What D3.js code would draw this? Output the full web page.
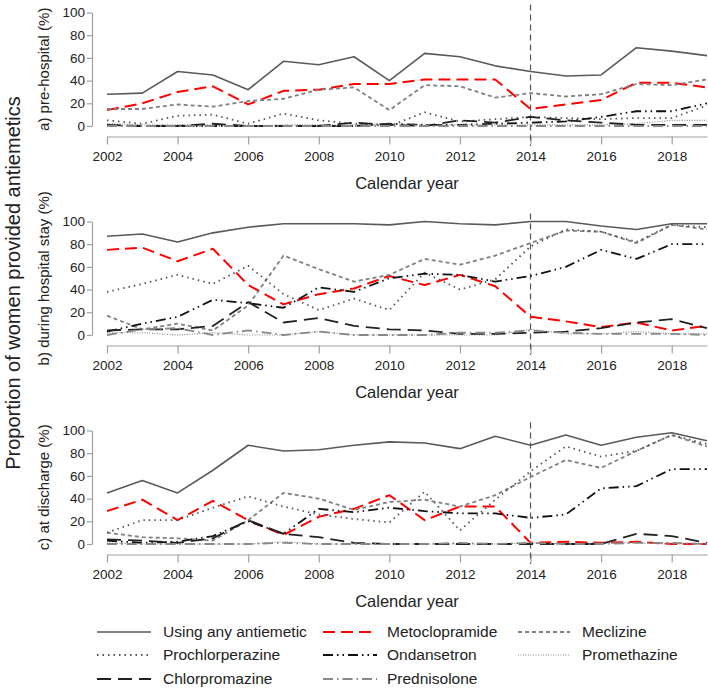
<!DOCTYPE html>
<html>
<head>
<meta charset="utf-8">
<script src="https://cdn.jsdelivr.net/npm/d3@7"></script>
<style>
  html, body { margin: 0; padding: 0; background: #fff; }
  svg { display: block; font-family: "Liberation Sans", Arial, sans-serif; }
</style>
</head>
<body>
<svg id="chart" width="708" height="689"></svg>
<script>
// ---------------- DATA ----------------
const years = [2002,2003,2004,2005,2006,2007,2008,2009,2010,2011,2012,2013,2014,2015,2016,2017,2018,2019];
const xTicks = [2002,2004,2006,2008,2010,2012,2014,2016,2018];
const yTicks = [0,20,40,60,80,100];
const drugs = ["Using any antiemetic","Metoclopramide","Meclizine","Prochlorperazine","Ondansetron","Promethazine","Chlorpromazine","Prednisolone"];
const panelTitles = ["a) pre-hospital (%)","b) during hospital stay (%)","c) at discharge (%)"];

// a) pre-hospital
const preAny   = [28,29,48,45,32,57,54,61,40,64,61,53,48,44,45,69,66,62];
const preMeto  = [14,20,30,35,19,31,32,37,37,41,41,41,15,19,23,38,38,34];
const preMecl  = [15,15,19,17,22,24,32,34,14,36,35,25,29,26,28,37,36,41];
const preProc  = [5,2,9,10,2,11,5,2,0,12,4,6,8,7,6,7,7,18];
const preOnd   = [0,0,0,0,0,0,0,0,2,1,1,2,3,4,8,13,13,20];
const preProm  = [2,1,1,1,0,1,1,1,2,1,1,1,1,1,1,2,5,5];
const preChlor = [1,0,0,2,0,0,0,3,1,0,5,3,8,5,3,1,1,1];
const prePred  = [0,0,0,0,0,0,0,0,0,0,0,0,0,0,0,0,0,0];

// b) during hospital stay
const hosAny   = [87,89,82,90,95,98,98,98,97,100,98,97,100,100,96,93,98,98];
const hosMeto  = [75,77,65,76,44,27,36,41,52,44,53,43,16,12,7,11,4,8];
const hosMecl  = [17,5,10,4,26,70,58,47,53,67,62,70,81,92,91,81,97,93];
const hosProc  = [38,45,53,45,61,36,22,32,22,55,40,49,78,93,91,82,97,95];
const hosOnd   = [3,10,16,31,28,24,42,38,50,54,53,47,52,60,75,67,80,80];
const hosProm  = [2,2,0,2,0,0,3,0,0,0,0,0,5,1,1,3,1,1];
const hosChlor = [4,5,5,8,29,11,15,8,5,4,1,1,2,3,6,11,14,6];
const hosPred  = [0,5,6,0,4,0,3,0,0,0,2,2,4,2,1,1,1,0];

// c) at discharge
const disAny   = [45,56,45,65,87,82,83,87,90,89,84,95,87,96,87,94,98,91];
const disMeto  = [29,39,21,38,21,8,24,31,43,21,33,33,1,2,1,2,0,0];
const disMecl  = [10,6,5,3,21,45,40,30,37,39,33,43,59,74,67,82,96,86];
const disProc  = [10,21,21,32,42,33,26,22,19,46,12,39,64,86,77,82,96,88];
const disOnd   = [3,1,2,7,20,9,31,28,32,29,27,27,23,26,49,51,66,66];
const disProm  = [1,0,0,0,0,2,0,0,0,0,0,0,1,0,1,1,0,0];
const disChlor = [4,3,1,5,21,9,6,1,0,0,0,0,0,0,0,9,7,1];
const disPred  = [0,0,0,0,0,1,0,0,0,0,1,0,1,0,0,1,1,0];

const markerYear = 2014;

// ---------------- STYLES ----------------
const styles = {
  "Using any antiemetic": {color:"#5a5a5a", width:1.6, dash:null},
  "Metoclopramide":       {color:"#ff0000", width:2,   dash:"12,6"},
  "Meclizine":            {color:"#808080", width:1.8, dash:"4,3"},
  "Prochlorperazine":     {color:"#555555", width:1.8, dash:"1.5,4"},
  "Ondansetron":          {color:"#111111", width:1.8, dash:"10,4,1.5,4,1.5,4"},
  "Promethazine":         {color:"#8a8a8a", width:1.2, dash:"1,1.5"},
  "Chlorpromazine":       {color:"#222222", width:1.8, dash:"14,7"},
  "Prednisolone":         {color:"#888888", width:1.8, dash:"10,4,1.5,4"}
};

const panels = [
  {title: panelTitles[0], top: 12.5,  series: [preAny,preMeto,preMecl,preProc,preOnd,preProm,preChlor,prePred]},
  {title: panelTitles[1], top: 221.5, series: [hosAny,hosMeto,hosMecl,hosProc,hosOnd,hosProm,hosChlor,hosPred]},
  {title: panelTitles[2], top: 430.5, series: [disAny,disMeto,disMecl,disProc,disOnd,disProm,disChlor,disPred]}
];

// ---------------- DRAW ----------------
const svg = d3.select("#chart");
const plotH = 113.5;
const x = d3.scaleLinear().domain([2002, 2019]).range([107, 707]);
const axisColor = "#a0a0a0";
const textColor = "#222";

panels.forEach(p => {
  const y = d3.scaleLinear().domain([0, 100]).range([p.top + plotH, p.top]);
  const g = svg.append("g");
  const y0 = p.top + plotH;

  // y axis
  const ya = g.append("g").attr("transform", "translate(92,0)")
    .call(d3.axisLeft(y).tickValues(yTicks).tickSize(5).tickSizeOuter(0).tickPadding(2));
  ya.select(".domain").attr("stroke", axisColor).attr("stroke-width", 1.2);
  ya.selectAll(".tick line").attr("stroke", axisColor).attr("stroke-width", 1.2);
  ya.selectAll(".tick text").attr("fill", textColor).style("font-size", "13.5px");

  // x axis
  const xa = g.append("g").attr("transform", `translate(0,${y0 + 10.5})`)
    .call(d3.axisBottom(x).tickValues(xTicks).tickFormat(d3.format("d")).tickSize(8).tickSizeOuter(0).tickPadding(7));
  xa.select(".domain").attr("stroke", axisColor).attr("stroke-width", 1.2);
  xa.selectAll(".tick line").attr("stroke", axisColor).attr("stroke-width", 1.2);
  xa.selectAll(".tick text").attr("fill", textColor).style("font-size", "13.5px");

  // vertical marker
  g.append("line")
    .attr("x1", x(markerYear)).attr("x2", x(markerYear))
    .attr("y1", p.top - 8).attr("y2", y0 + 20)
    .attr("stroke", "#555").attr("stroke-width", 1.2).attr("stroke-dasharray", "6,4");

  // series lines
  const line = d3.line().x((d, i) => x(years[i])).y(d => y(d));
  p.series.forEach((vals, k) => {
    const s = styles[drugs[k]];
    g.append("path").datum(vals)
      .attr("d", line)
      .attr("fill", "none")
      .attr("stroke", s.color)
      .attr("stroke-width", s.width)
      .attr("stroke-dasharray", s.dash)
      .attr("stroke-linejoin", "round");
  });

  // x title
  g.append("text").attr("x", 407).attr("y", y0 + 63)
    .attr("text-anchor", "middle").attr("fill", textColor)
    .style("font-size", "16.5px").text("Calendar year");

  // panel y title
  g.append("text")
    .attr("transform", `translate(44,${p.top + plotH / 2}) rotate(-90)`)
    .attr("text-anchor", "middle").attr("dy", "0.35em").attr("fill", textColor)
    .style("font-size", "15px").text(p.title);
});

// overall y title
svg.append("text")
  .attr("transform", "translate(13,283) rotate(-90)")
  .attr("text-anchor", "middle").attr("dy", "0.35em").attr("fill", textColor)
  .style("font-size", "20px").text("Proportion of women provided antiemetics");

// ---------------- LEGEND ----------------
const legendCols = [{lx1: 97, lx2: 151, tx: 163}, {lx1: 323, lx2: 377, tx: 387}, {lx1: 518, lx2: 570, tx: 582}];
const legendRows = [632, 655, 679];
drugs.forEach((name, i) => {
  const col = legendCols[i % 3], row = legendRows[Math.floor(i / 3)];
  const s = styles[name];
  svg.append("line")
    .attr("x1", col.lx1).attr("x2", col.lx2).attr("y1", row).attr("y2", row)
    .attr("stroke", s.color).attr("stroke-width", s.width).attr("stroke-dasharray", s.dash);
  svg.append("text").attr("x", col.tx).attr("y", row).attr("dy", "0.35em")
    .attr("fill", textColor).style("font-size", "15.5px").text(name);
});
</script>
</body>
</html>
